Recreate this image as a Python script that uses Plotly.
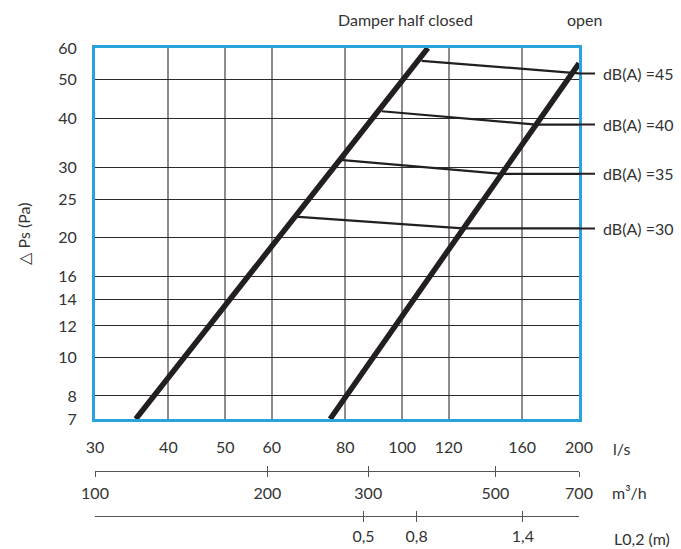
import numpy as np
import plotly.graph_objects as go

# axis ticks
flow_ticks = [30, 40, 50, 60, 80, 100, 120, 160, 200]   # l/s
dp_ticks = [7, 8, 10, 12, 14, 16, 20, 25, 30, 40, 50, 60]   # Pa
m3h_ticks = [100, 200, 300, 500, 700]
l02_ticks = [0.5, 0.8, 1.4]
l02_labels = ['0,5', '0,8', '1,4']

# damper curves (l/s, Pa)
half_flow = [35.2, 110.6]
half_dp = [7, 60]
open_flow = [75.4, 200]
open_dp = [7, 54.9]

# sound level lines: start on the half closed curve, end on the open curve
db_levels = [30, 35, 40, 45]
db_start_flow = [65.7, 78.4, 92.3, 107.9]
db_start_dp = [22.6, 31.4, 41.6, 55.7]
db_end_flow = [126.9, 147.8, 169.1, 196.7]
db_end_dp = [21.1, 28.96, 38.5, 51.8]

x_min, x_max = 30, 200
y_min, y_max = 7, 60

font = 'Lato, "Open Sans", sans-serif'
txt = '#333333'
frame = '#2aa3dd'
ink = '#231f20'

fig = go.Figure()

# dB(A) lines (thin)
for i in range(len(db_levels)):
    fig.add_trace(go.Scatter(
        x=[db_start_flow[i], db_end_flow[i], x_max],
        y=[db_start_dp[i], db_end_dp[i], db_end_dp[i]],
        mode='lines', line=dict(color=ink, width=2.2),
        showlegend=False, hoverinfo='skip'))

# damper curves (thick)
fig.add_trace(go.Scatter(x=half_flow, y=half_dp, mode='lines',
                         line=dict(color=ink, width=5.5), showlegend=False))
fig.add_trace(go.Scatter(x=open_flow, y=open_dp, mode='lines',
                         line=dict(color=ink, width=5.5), showlegend=False))

# dummy traces so the extra scale axes get drawn
for ax_name, vals in [('x2', m3h_ticks), ('x3', m3h_ticks), ('x4', l02_ticks), ('x5', l02_ticks)]:
    fig.add_trace(go.Scatter(x=vals, y=[y_min] * len(vals), xaxis=ax_name, yaxis='y',
                             mode='markers', marker=dict(size=1, opacity=0),
                             showlegend=False, hoverinfo='skip'))

# paper: 95..579 px wide, 48..519 px tall; plot bottom at 419 px
y_dom0 = (519 - 419) / 471
pos_m3h = (519 - 471) / 471
pos_l02 = (519 - 516) / 471

scale_axis = dict(showline=True, linecolor='#555555', linewidth=1.3, showgrid=False,
                  zeroline=False, tickcolor='#555555', tickwidth=1.3, ticklen=5,
                  tickfont=dict(family=font, size=16, color=txt), anchor='free',
                  overlaying='x', automargin=False)

fig.update_layout(
    width=681, height=549, autosize=False,
    margin=dict(l=95, r=102, t=48, b=30),
    paper_bgcolor='white', plot_bgcolor='white',
    font=dict(family=font, size=16, color=txt),
    xaxis=dict(type='log', range=[np.log10(x_min), np.log10(x_max)],
               tickvals=flow_ticks, ticktext=[str(v) for v in flow_ticks],
               showgrid=True, gridcolor='#8c8c8c', gridwidth=1.6,
               showline=True, linecolor=frame, linewidth=3, mirror=True,
               ticks='', ticklabelstandoff=12, zeroline=False, automargin=False,
               tickfont=dict(family=font, size=16, color=txt)),
    yaxis=dict(type='log', range=[np.log10(y_min), np.log10(y_max)], domain=[y_dom0, 1],
               tickvals=dp_ticks, ticktext=[str(v) for v in dp_ticks],
               showgrid=True, gridcolor='#2a2a2a', gridwidth=1.1,
               showline=True, linecolor=frame, linewidth=3, mirror=True,
               ticks='', ticklabelstandoff=12, zeroline=False, automargin=False,
               tickfont=dict(family=font, size=16, color=txt),
               title=dict(text='△ Ps (Pa)', standoff=24,
                          font=dict(family=font, size=16, color=txt))),
    xaxis2=dict(scale_axis, type='log', range=[np.log10(100), np.log10(700)],
                position=pos_m3h, ticks='outside', tickvals=m3h_ticks,
                ticklabelstandoff=3),
    xaxis3=dict(scale_axis, type='log', range=[np.log10(100), np.log10(700)],
                position=pos_m3h, ticks='inside', tickvals=m3h_ticks,
                showticklabels=False),
    xaxis4=dict(scale_axis, type='linear', range=[-1.017, 1.717],
                position=pos_l02, ticks='outside', tickvals=l02_ticks, ticktext=l02_labels,
                ticklabelstandoff=1),
    xaxis5=dict(scale_axis, type='linear', range=[-1.017, 1.717],
                position=pos_l02, ticks='inside', tickvals=l02_ticks,
                showticklabels=False),
)

# dB(A) labels, joined to the end of each line
for i, lvl in enumerate(db_levels):
    fig.add_annotation(x=np.log10(x_max), y=np.log10(db_end_dp[i]), xref='x', yref='y',
                       text=f'dB(A) ={lvl}', showarrow=True, arrowhead=0,
                       arrowwidth=2, arrowcolor=ink, ax=22, ay=0, xanchor='left',
                       startstandoff=6, font=dict(family=font, size=16, color=txt))

# header and unit labels
fig.add_annotation(x=0.6405, y=1.0595, xref='paper', yref='paper', text='Damper half closed',
                   showarrow=False, xanchor='center', yanchor='middle')
fig.add_annotation(x=1.0114, y=1.0595, xref='paper', yref='paper', text='open',
                   showarrow=False, xanchor='center', yanchor='middle')
fig.add_annotation(x=1.066, y=0.150, xref='paper', yref='paper', text='l/s',
                   showarrow=False, xanchor='left', yanchor='middle')
fig.add_annotation(x=1.064, y=0.0558, xref='paper', yref='paper', text='m³/h',
                   showarrow=False, xanchor='left', yanchor='middle')
fig.add_annotation(x=1.0675, y=-0.041, xref='paper', yref='paper', text='L0,2 (m)',
                   showarrow=False, xanchor='left', yanchor='middle')

fig.write_html("out.html", config={'displayModeBar': False},
               post_script="document.body.style.margin='0';")
